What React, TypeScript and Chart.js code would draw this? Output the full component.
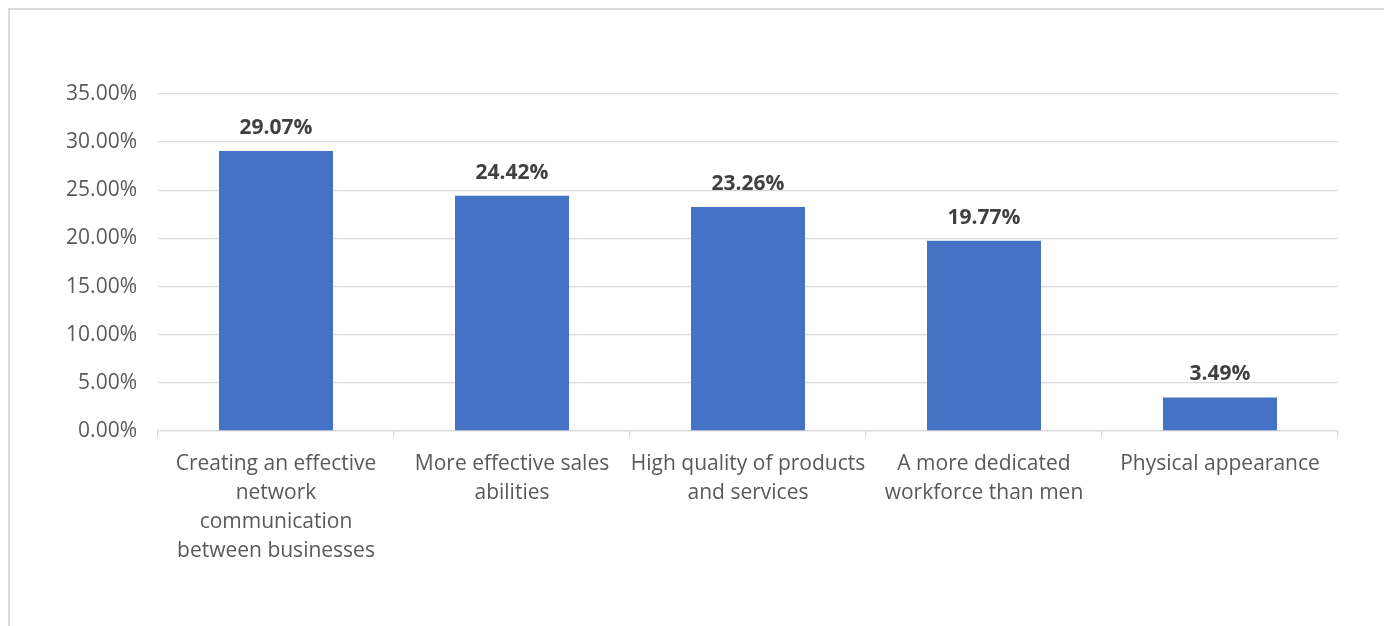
import React, { useEffect, useRef } from "react";
import { Chart, registerables } from "chart.js";

Chart.register(...registerables);

const categories: string[][] = [
  ["Creating an effective", "network", "communication", "between businesses"],
  ["More effective sales", "abilities"],
  ["High quality of products", "and services"],
  ["A more dedicated", "workforce than men"],
  ["Physical appearance"],
];
const values: number[] = [29.07, 24.42, 23.26, 19.77, 3.49];
const yMax = 35;
const yStep = 5;

const FONT = '"Open Sans", "Noto Sans", sans-serif';

const valueLabels = {
  id: "valueLabels",
  afterDatasetsDraw(chart: any) {
    const ctx = chart.ctx;
    const meta = chart.getDatasetMeta(0);
    ctx.save();
    ctx.font = `bold 21px ${FONT}`;
    ctx.fillStyle = "#404040";
    ctx.textAlign = "center";
    ctx.textBaseline = "alphabetic";
    meta.data.forEach((bar: any, i: number) => {
      ctx.fillText(values[i].toFixed(2) + "%", bar.x, bar.y - 17);
    });
    ctx.restore();
  },
};

export default function App() {
  const ref = useRef<HTMLCanvasElement>(null);
  useEffect(() => {
    if (!ref.current) return;
    const chart = new Chart(ref.current, {
      type: "bar",
      data: {
        labels: categories,
        datasets: [
          {
            data: values,
            backgroundColor: "#4472C4",
            categoryPercentage: 1,
            barPercentage: 0.483,
          },
        ],
      },
      options: {
        animation: false,
        responsive: false,
        maintainAspectRatio: false,
        layout: { padding: { top: 84, right: 46, left: 0, bottom: 0 } },
        plugins: { legend: { display: false }, tooltip: { enabled: false } },
        scales: {
          y: {
            min: 0,
            max: yMax,
            ticks: {
              stepSize: yStep,
              padding: 21,
              color: "#595959",
              font: { family: FONT, size: 21 },
              callback: (v: any) => Number(v).toFixed(2) + "%",
            },
            grid: { color: "#d9d9d9", lineWidth: 1.3, drawTicks: false },
            border: { display: false },
            afterFit: (s: any) => {
              s.width = 148;
            },
          },
          x: {
            ticks: {
              color: "#595959",
              font: { family: FONT, size: 21, lineHeight: 1.38 },
              padding: 12,
              maxRotation: 0,
              autoSkip: false,
            },
            grid: {
              color: "#d9d9d9",
              lineWidth: 1.3,
              drawOnChartArea: false,
              drawTicks: true,
              tickLength: 7,
              offset: true,
            },
            border: { display: true, color: "#d9d9d9", width: 1.3 },
            afterFit: (s: any) => {
              s.height = 195;
            },
          },
        },
      },
      plugins: [valueLabels],
    });
    return () => chart.destroy();
  }, []);
  return (
    <div
      style={{
        width: 1374,
        height: 616,
        border: "2px solid #d9d9d9",
        background: "#fff",
      }}
    >
      <canvas ref={ref} width={1374} height={616} style={{ display: "block" }} />
    </div>
  );
}
